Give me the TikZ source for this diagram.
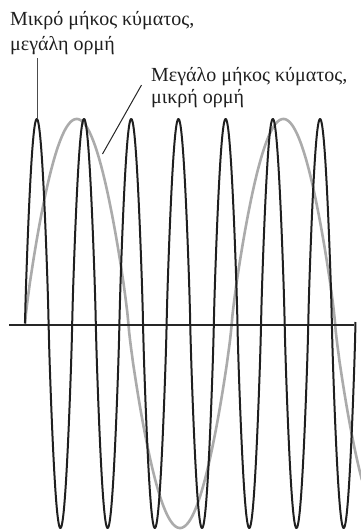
\documentclass[tikz,border=0pt]{standalone}
\usepackage{fontspec}
\setmainfont{Liberation Serif}
\begin{document}
\begin{tikzpicture}[x=1pt,y=-1pt,
  declare function={wv(\t)=sign(sin(\t))*(abs(sin(\t))+0.00001)^0.85;},
  blackwave/.style={line width=2pt, color=black!88, line join=round},
  greywave/.style={line width=2.6pt, color=black!33, line join=round},
  axisline/.style={line width=1.5pt, color=black!85},
  leader/.style={line width=1pt, color=black!70},
  lbl/.style={anchor=base west, inner sep=0pt, font=\fontsize{20}{24}\selectfont, text=black!88}]
\useasboundingbox (0,0) rectangle (361,530);
% grey long wave
\begin{scope}
\clip (0,0) rectangle (361,530);
\draw[greywave] plot[domain=25:362, samples=360] (\x, {323.5 - 204.5*wv((\x-25)/206.7*360)});
\end{scope}
% axis
\coordinate (axL) at (9,325);
\coordinate (axR) at (353.5,325);
\draw[axisline] (axL) -- (axR);
% black short wave
\draw[blackwave] plot[domain=25:355.5, samples=700] (\x, {323.5 - 204.5*wv((\x-25)/47.21*360)});
% labels
\node[lbl] (l1a) at (10,25.5) {Μικρό μήκος κύματος,};
\node[lbl] (l1b) at (10,50) {μεγάλη ορμή};
\node[lbl] (l2a) at (151,81.5) {Μεγάλο μήκος κύματος,};
\node[lbl] (l2b) at (151,103) {μικρή ορμή};
% leaders
\coordinate (ld1s) at (37.3,58);
\coordinate (ld1e) at (37.3,119);
\coordinate (ld2s) at (141.5,85);
\coordinate (ld2e) at (102.5,154);
\draw[leader] (ld1s) -- (ld1e);
\draw[leader, color=black!85] (ld2s) -- (ld2e);
\end{tikzpicture}
\end{document}
